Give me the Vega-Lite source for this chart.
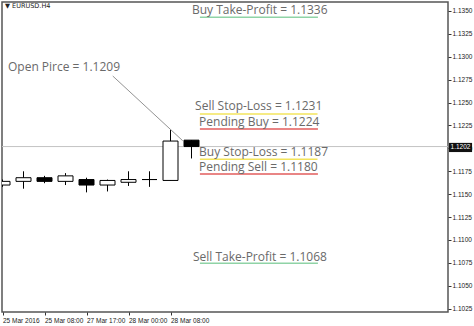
{
  "$schema": "https://vega.github.io/schema/vega-lite/v6.json",
  "width": 446,
  "height": 310,
  "autosize": "none",
  "padding": {"left": 2, "top": 2, "right": 26, "bottom": 14},
  "background": "white",
  "config": {
    "view": {"stroke": "#555555", "strokeWidth": 1.5},
    "axis": {
      "grid": false, "domain": false, "tickSize": 3, "tickColor": "#333333",
      "labelFont": "Liberation Sans", "labelFontSize": 6.5, "labelColor": "#222222",
      "labelOverlap": false, "labelFlush": false, "labelBound": false, "title": null
    },
    "axisX": {"labelAlign": "left", "labelPadding": 2},
    "axisY": {"labelPadding": 1}
  },
  "datasets": {
    "candles": [
      {"i": 0, "open": 1.1160, "high": 1.1166, "low": 1.1158, "close": 1.1164, "dir": "up"},
      {"i": 1, "open": 1.1164, "high": 1.1175, "low": 1.1156, "close": 1.1168, "dir": "up"},
      {"i": 2, "open": 1.1168, "high": 1.1170, "low": 1.1162, "close": 1.1164, "dir": "down"},
      {"i": 3, "open": 1.1164, "high": 1.1173, "low": 1.1160, "close": 1.1170, "dir": "up"},
      {"i": 4, "open": 1.1166, "high": 1.1168, "low": 1.1152, "close": 1.1160, "dir": "down"},
      {"i": 5, "open": 1.1160, "high": 1.1166, "low": 1.1153, "close": 1.1165, "dir": "up"},
      {"i": 6, "open": 1.1163, "high": 1.1175, "low": 1.1159, "close": 1.1166, "dir": "up"},
      {"i": 7, "open": 1.1166, "high": 1.1175, "low": 1.1158, "close": 1.1166, "dir": "up"},
      {"i": 8, "open": 1.1165, "high": 1.1220, "low": 1.1165, "close": 1.1208, "dir": "up"},
      {"i": 9, "open": 1.1209, "high": 1.1209, "low": 1.1189, "close": 1.1202, "dir": "down"}
    ],
    "notes": [
      {"i": 9.02, "v": 1.13516, "text": "Buy Take-Profit = 1.1336"},
      {"i": 0.26, "v": 1.12889, "text": "Open Pirce = 1.1209"},
      {"i": 9.17, "v": 1.12463, "text": "Sell Stop-Loss = 1.1231"},
      {"i": 9.36, "v": 1.12288, "text": "Pending Buy = 1.1224"},
      {"i": 9.36, "v": 1.11961, "text": "Buy Stop-Loss = 1.1187"},
      {"i": 9.36, "v": 1.11797, "text": "Pending Sell = 1.1180"},
      {"i": 9.07, "v": 1.10814, "text": "Sell Take-Profit = 1.1068"}
    ],
    "unders": [
      {"i": 9.4, "i2": 15.02, "v": 1.13431, "kind": "tp"},
      {"i": 9.4, "i2": 15.0, "v": 1.12376, "kind": "sl"},
      {"i": 9.4, "i2": 15.02, "v": 1.12212, "kind": "pending"},
      {"i": 9.4, "i2": 15.0, "v": 1.11881, "kind": "sl"},
      {"i": 9.4, "i2": 15.02, "v": 1.11721, "kind": "pending"},
      {"i": 9.4, "i2": 15.02, "v": 1.10746, "kind": "tp"}
    ],
    "pointer": [{"i": 5.25, "v": 1.1279, "i2": 8.58, "v2": 1.12084}],
    "price": [{"v": 1.1202, "lo": 1.1196, "hi": 1.1206, "i": 21.26, "i2": 22.36, "ic": 21.81, "text": "1.1202"}],
    "symbol": [{"i": 0.12, "v": 1.13555, "text": "▼ EURUSD.H4"}]
  },
  "encoding": {
    "x": {
      "type": "quantitative",
      "scale": {"domain": [-0.024, 21.214], "nice": false, "zero": false, "padding": 0}
    },
    "y": {
      "type": "quantitative",
      "scale": {"domain": [1.10214, 1.13598], "nice": false, "zero": false, "padding": 0}
    }
  },
  "layer": [
    {
      "data": {"name": "price"},
      "mark": {"type": "rule", "color": "#c4c4c4", "strokeWidth": 1},
      "encoding": {"y": {"field": "v", "type": "quantitative"}}
    },
    {
      "data": {"name": "candles"},
      "mark": {"type": "rule", "color": "black", "strokeWidth": 1, "clip": true},
      "encoding": {
        "x": {
          "field": "i", "type": "quantitative",
          "axis": {
            "orient": "bottom", "values": [0, 2, 4, 6, 8], "title": null, "tickCount": 20,
            "labelExpr": "['25 Mar 2016','','25 Mar 08:00','','27 Mar 17:00','','28 Mar 00:00','','28 Mar 08:00'][datum.value]"
          }
        },
        "y": {
          "field": "low", "type": "quantitative",
          "axis": {
            "orient": "right", "title": null, "format": ".4f", "tickCount": 30,
            "values": [1.1025, 1.105, 1.1075, 1.11, 1.1125, 1.115, 1.1175, 1.12, 1.1225, 1.125, 1.1275, 1.13, 1.1325, 1.135]
          }
        },
        "y2": {"field": "high"}
      }
    },
    {
      "data": {"name": "candles"},
      "mark": {"type": "bar", "size": 15, "stroke": "black", "strokeWidth": 1, "clip": true},
      "encoding": {
        "x": {"field": "i", "type": "quantitative"},
        "y": {"field": "open", "type": "quantitative"},
        "y2": {"field": "close"},
        "fill": {
          "field": "dir", "type": "nominal",
          "scale": {"domain": ["up", "down"], "range": ["white", "black"]},
          "legend": null
        }
      }
    },
    {
      "data": {"name": "pointer"},
      "mark": {"type": "rule", "color": "#777777", "strokeWidth": 0.8},
      "encoding": {
        "x": {"field": "i", "type": "quantitative"},
        "y": {"field": "v", "type": "quantitative"},
        "x2": {"field": "i2"},
        "y2": {"field": "v2"}
      }
    },
    {
      "data": {"name": "unders"},
      "mark": {"type": "rule", "strokeWidth": 1.5},
      "encoding": {
        "x": {"field": "i", "type": "quantitative"},
        "x2": {"field": "i2"},
        "y": {"field": "v", "type": "quantitative"},
        "color": {
          "field": "kind", "type": "nominal",
          "scale": {"domain": ["tp", "sl", "pending"], "range": ["#8fd3a6", "#f3e45c", "#e25c5c"]},
          "legend": null
        }
      }
    },
    {
      "data": {"name": "notes"},
      "mark": {"type": "text", "align": "left", "baseline": "middle", "font": "Open Sans", "fontSize": 12, "color": "#6a6a6a"},
      "encoding": {
        "x": {"field": "i", "type": "quantitative"},
        "y": {"field": "v", "type": "quantitative"},
        "text": {"field": "text"}
      }
    },
    {
      "data": {"name": "symbol"},
      "mark": {"type": "text", "align": "left", "baseline": "middle", "font": "DejaVu Sans", "fontSize": 6.5, "color": "#222222"},
      "encoding": {
        "x": {"field": "i", "type": "quantitative"},
        "y": {"field": "v", "type": "quantitative"},
        "text": {"field": "text"}
      }
    },
    {
      "data": {"name": "price"},
      "mark": {"type": "rect", "color": "#111111", "clip": false},
      "encoding": {
        "x": {"field": "i", "type": "quantitative"},
        "x2": {"field": "i2"},
        "y": {"field": "lo", "type": "quantitative"},
        "y2": {"field": "hi"}
      }
    },
    {
      "data": {"name": "price"},
      "mark": {"type": "text", "align": "center", "baseline": "middle", "font": "Liberation Sans", "fontSize": 6.5, "color": "white"},
      "encoding": {
        "x": {"field": "ic", "type": "quantitative"},
        "y": {"field": "v", "type": "quantitative"},
        "text": {"field": "text"}
      }
    }
  ]
}
